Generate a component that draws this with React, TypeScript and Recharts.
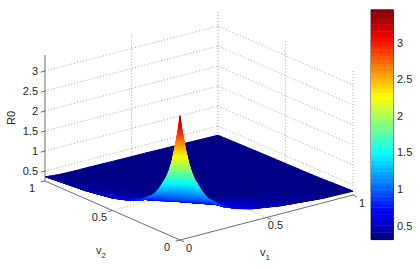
import React from "react";
import { ComposedChart, Line, Scatter, XAxis, YAxis } from "recharts";

// ---- chart values ----
const v1Grid = [0, 0.008, 0.017, 0.025, 0.033, 0.05, 0.067, 0.083, 0.125, 0.167, 0.25, 0.333, 0.417, 0.583, 0.833, 1];
const v2Grid = [0, 0.01, 0.02, 0.03, 0.04, 0.06, 0.08, 0.1, 0.15, 0.2, 0.3, 0.4, 0.5, 0.7, 1];

const r0AtV2_000 = [3.36, 3.05, 2.85, 2.65, 2.46, 2.12, 1.87, 1.68, 1.33, 1.08, 0.8, 0.66, 0.56, 0.45, 0.36, 0.345];
const r0AtV2_001 = [3.05, 2.93, 2.76, 2.58, 2.41, 2.08, 1.85, 1.66, 1.32, 1.075, 0.8, 0.66, 0.56, 0.45, 0.36, 0.345];
const r0AtV2_002 = [2.85, 2.76, 2.62, 2.46, 2.3, 2.03, 1.8, 1.63, 1.3, 1.07, 0.79, 0.66, 0.56, 0.445, 0.36, 0.345];
const r0AtV2_003 = [2.65, 2.58, 2.46, 2.32, 2.19, 1.95, 1.75, 1.59, 1.28, 1.06, 0.79, 0.65, 0.555, 0.44, 0.358, 0.344];
const r0AtV2_004 = [2.46, 2.41, 2.3, 2.19, 2.07, 1.87, 1.7, 1.55, 1.25, 1.05, 0.785, 0.65, 0.55, 0.43, 0.355, 0.343];
const r0AtV2_006 = [2.12, 2.08, 2.03, 1.95, 1.87, 1.72, 1.56, 1.45, 1.2, 1.01, 0.77, 0.64, 0.545, 0.42, 0.35, 0.342];
const r0AtV2_008 = [1.87, 1.85, 1.8, 1.75, 1.7, 1.56, 1.46, 1.36, 1.12, 0.95, 0.755, 0.635, 0.54, 0.41, 0.35, 0.34];
const r0AtV2_010 = [1.68, 1.66, 1.63, 1.59, 1.55, 1.45, 1.36, 1.25, 1.02, 0.88, 0.72, 0.625, 0.53, 0.4, 0.345, 0.335];
const r0AtV2_015 = [1.33, 1.32, 1.3, 1.28, 1.25, 1.2, 1.12, 1.02, 0.88, 0.8, 0.66, 0.58, 0.49, 0.39, 0.34, 0.33];
const r0AtV2_020 = [1.08, 1.075, 1.07, 1.06, 1.05, 1.01, 0.95, 0.88, 0.8, 0.72, 0.6, 0.52, 0.44, 0.37, 0.33, 0.32];
const r0AtV2_030 = [0.8, 0.8, 0.79, 0.79, 0.785, 0.77, 0.74, 0.71, 0.65, 0.61, 0.5, 0.42, 0.37, 0.33, 0.32, 0.31];
const r0AtV2_040 = [0.66, 0.66, 0.66, 0.65, 0.65, 0.63, 0.61, 0.59, 0.55, 0.5, 0.42, 0.37, 0.34, 0.32, 0.31, 0.305];
const r0AtV2_050 = [0.56, 0.55, 0.55, 0.54, 0.53, 0.51, 0.49, 0.46, 0.42, 0.39, 0.36, 0.34, 0.32, 0.31, 0.305, 0.3];
const r0AtV2_070 = [0.45, 0.44, 0.43, 0.42, 0.41, 0.4, 0.39, 0.38, 0.37, 0.36, 0.33, 0.32, 0.31, 0.305, 0.3, 0.29];
const r0AtV2_100 = [0.36, 0.35, 0.345, 0.34, 0.335, 0.33, 0.325, 0.32, 0.315, 0.31, 0.31, 0.305, 0.3, 0.295, 0.28, 0.27];

const r0Rows = [
  r0AtV2_000, r0AtV2_001, r0AtV2_002, r0AtV2_003, r0AtV2_004, r0AtV2_006, r0AtV2_008, r0AtV2_010,
  r0AtV2_015, r0AtV2_020, r0AtV2_030, r0AtV2_040, r0AtV2_050, r0AtV2_070, r0AtV2_100,
];

const zTicks = [0.5, 1, 1.5, 2, 2.5, 3];
const zTickLabels = ["0.5", "1", "1.5", "2", "2.5", "3"];
const horizontalTicks = [0, 0.5, 1];
const horizontalTickLabels = ["0", "0.5", "1"];
const colorbarTicks = [0.5, 1, 1.5, 2, 2.5, 3];
const colorbarTickLabels = ["0.5", "1", "1.5", "2", "2.5", "3"];

// ---- view and style ----
const W = 420;
const H = 269;
const Z_FLOOR = 0.25;
const Z_TOP = 3.4;
const C_MIN = 0.31;
const C_MAX = 3.45;
const LEVELS = 64;
const FONT = "'Liberation Sans', Arial, sans-serif";
const TEXT = "#262626";
const AXIS = "#6e6e6e";
const GRID = "#a8a8a8";

const project = (v1: number, v2: number, z: number) => ({
  sx: 180 + 173 * v1 - 135 * v2,
  sy: 240 - 45 * v1 - 59 * v2 - 40 * (z - Z_FLOOR),
});

const clamp = (t: number) => Math.max(0, Math.min(1, t));
const jet = (z: number) => {
  const level = Math.min(LEVELS - 1, Math.floor(clamp((z - C_MIN) / (C_MAX - C_MIN)) * LEVELS));
  const t = (level + 0.5) / LEVELS;
  const r = clamp(Math.min(4 * t - 1.5, -4 * t + 4.5));
  const g = clamp(Math.min(4 * t - 0.5, -4 * t + 3.5));
  const b = clamp(Math.min(4 * t + 0.5, -4 * t + 2.5));
  return `rgb(${Math.round(r * 255)},${Math.round(g * 255)},${Math.round(b * 255)})`;
};

// surface cells, farthest first so nearer cells paint over them
type Cell = { sx: number; sy: number; a: number; b: number };
const cells: Cell[] = [];
for (let a = v2Grid.length - 2; a >= 0; a--) {
  for (let b = v1Grid.length - 2; b >= 0; b--) {
    cells.push({ ...project(v1Grid[b], v2Grid[a], r0Rows[a][b]), a, b });
  }
}

const SurfaceCell = (props: any) => {
  const { cx, cy, payload } = props;
  if (cx == null || !payload) return null;
  const { a, b, sx, sy } = payload as Cell;
  const v1a = v1Grid[b], v1b = v1Grid[b + 1];
  const v2a = v2Grid[a], v2b = v2Grid[a + 1];
  const z00 = r0Rows[a][b], z01 = r0Rows[a][b + 1], z10 = r0Rows[a + 1][b], z11 = r0Rows[a + 1][b + 1];
  const spread = Math.max(z00, z01, z10, z11) - Math.min(z00, z01, z10, z11);
  const n = Math.max(1, Math.min(10, Math.ceil(spread / 0.03)));
  const at = (u: number, w: number) => {
    const z = (1 - u) * (1 - w) * z00 + u * (1 - w) * z01 + (1 - u) * w * z10 + u * w * z11;
    const p = project(v1a + (v1b - v1a) * u, v2a + (v2b - v2a) * w, z);
    return { x: cx + p.sx - sx, y: cy + p.sy - sy, z };
  };
  const polys = [];
  for (let iw = n - 1; iw >= 0; iw--) {
    for (let iu = n - 1; iu >= 0; iu--) {
      const c = [at(iu / n, iw / n), at((iu + 1) / n, iw / n), at((iu + 1) / n, (iw + 1) / n), at(iu / n, (iw + 1) / n)];
      const fill = jet((c[0].z + c[1].z + c[2].z + c[3].z) / 4);
      polys.push(
        <polygon
          key={`${iw}-${iu}`}
          points={c.map((q) => `${q.x.toFixed(2)},${q.y.toFixed(2)}`).join(" ")}
          fill={fill}
          stroke={fill}
          strokeWidth={1}
          strokeLinejoin="round"
        />,
      );
    }
  }
  return <g>{polys}</g>;
};

// ---- reference lines in 3-D ----
type P = { sx: number; sy: number };
const seg = (a: number[], b: number[]): P[] => [project(a[0], a[1], a[2]), project(b[0], b[1], b[2])];

const gridSegments: P[][] = [
  ...zTicks.flatMap((z) => [seg([0, 1, z], [1, 1, z]), seg([1, 1, z], [1, 0, z])]),
  seg([0.5, 1, Z_FLOOR], [0.5, 1, Z_TOP]),
  seg([1, 1, Z_FLOOR], [1, 1, Z_TOP]),
  seg([1, 0.5, Z_FLOOR], [1, 0.5, Z_TOP]),
  seg([1, 0, Z_FLOOR], [1, 0, Z_TOP]),
  seg([0.5, 0, Z_FLOOR], [0.5, 1, Z_FLOOR]),
  seg([0, 0.5, Z_FLOOR], [1, 0.5, Z_FLOOR]),
];

const axisSegments: P[][] = [
  seg([0, 1, Z_FLOOR], [0, 1, Z_TOP]),
  seg([0, 1, Z_FLOOR], [0, 0, Z_FLOOR]),
  seg([0, 0, Z_FLOOR], [1, 0, Z_FLOOR]),
  ...zTicks.map((z) => seg([0, 1, z], [-0.025, 1, z])),
  ...horizontalTicks.map((v) => seg([0, v, Z_FLOOR], [-0.025, v, Z_FLOOR])),
  ...horizontalTicks.map((v) => seg([v, 0, Z_FLOOR], [v, -0.03, Z_FLOOR])),
];

// ---- colour bar ----
const cbY = (z: number) => 225.7 - (z - 0.5) * 73.2;
const CB_LEFT = 371;
const CB_RIGHT = 393.5;
const cbStep = (C_MAX - C_MIN) / LEVELS;
const cbLevels = Array.from({ length: LEVELS }, (_, i) => {
  const z = C_MIN + cbStep * i;
  return { sx: CB_LEFT, sy: cbY(z + cbStep), h: cbY(z) - cbY(z + cbStep), z: z + cbStep / 2 };
});
const CbBand = (props: any) => {
  const { cx, cy, payload } = props;
  if (cx == null) return null;
  const fill = jet(payload.z);
  return <rect x={cx} y={cy} width={CB_RIGHT - CB_LEFT} height={payload.h + 0.4} fill={fill} />;
};
const cbTop = cbY(C_MAX);
const cbBottom = cbY(C_MIN);
const cbOutline: P[] = [
  { sx: CB_LEFT, sy: cbTop },
  { sx: CB_RIGHT, sy: cbTop },
  { sx: CB_RIGHT, sy: cbBottom },
  { sx: CB_LEFT, sy: cbBottom },
  { sx: CB_LEFT, sy: cbTop },
];
const cbTickSegments: P[][] = colorbarTicks.flatMap((z) => [
  [{ sx: CB_LEFT, sy: cbY(z) }, { sx: CB_LEFT + 2.5, sy: cbY(z) }],
  [{ sx: CB_RIGHT - 2.5, sy: cbY(z) }, { sx: CB_RIGHT, sy: cbY(z) }],
]);

// ---- text ----
type Label = { sx: number; sy: number; text: string; anchor?: string; sub?: string; rotate?: boolean };
const labels: Label[] = [
  ...zTicks.map((z, i) => {
    const p = project(0, 1, z);
    return { sx: p.sx - 7, sy: p.sy, text: zTickLabels[i], anchor: "end" };
  }),
  ...horizontalTicks.map((v, i) => {
    const p = project(0, v, Z_FLOOR);
    return { sx: p.sx - 13, sy: p.sy + 7, text: horizontalTickLabels[i], anchor: "middle" };
  }),
  ...horizontalTicks.map((v, i) => {
    const p = project(v, 0, Z_FLOOR);
    return { sx: p.sx + 9, sy: p.sy + 8, text: horizontalTickLabels[i], anchor: "middle" };
  }),
  ...colorbarTicks.map((z, i) => ({ sx: 397, sy: cbY(z), text: colorbarTickLabels[i], anchor: "start" })),
  { sx: 96, sy: 250, text: "v", sub: "2", anchor: "start" },
  { sx: 260, sy: 252, text: "v", sub: "1", anchor: "start" },
  { sx: 11, sy: 118, text: "R0", anchor: "middle", rotate: true },
];

const TextMark = (props: any) => {
  const { cx, cy, payload } = props;
  if (cx == null) return null;
  const l = payload as Label;
  return (
    <text
      x={cx}
      y={cy}
      dy="0.35em"
      textAnchor={l.anchor}
      fontFamily={FONT}
      fontSize={11}
      fill={TEXT}
      transform={l.rotate ? `rotate(-90 ${cx} ${cy})` : undefined}
    >
      {l.text}
      {l.sub ? (
        <tspan dy={4} fontSize={8}>
          {l.sub}
        </tspan>
      ) : null}
    </text>
  );
};

export default function App() {
  return (
    <div style={{ position: "fixed", left: 0, top: 0, width: W, height: H, background: "#fff" }}>
      <ComposedChart width={W} height={H} margin={{ top: 0, right: 0, bottom: 0, left: 0 }}>
        <XAxis type="number" dataKey="sx" domain={[0, W]} hide allowDataOverflow />
        <YAxis type="number" dataKey="sy" domain={[0, H]} reversed hide allowDataOverflow />
        {gridSegments.map((d, i) => (
          <Line
            key={`grid-${i}`}
            data={d}
            dataKey="sy"
            stroke={GRID}
            strokeWidth={1}
            strokeDasharray="1 2"
            dot={false}
            activeDot={false}
            legendType="none"
            isAnimationActive={false}
          />
        ))}
        {axisSegments.map((d, i) => (
          <Line
            key={`axis-${i}`}
            data={d}
            dataKey="sy"
            stroke={AXIS}
            strokeWidth={1}
            dot={false}
            activeDot={false}
            legendType="none"
            isAnimationActive={false}
          />
        ))}
        <Scatter data={cells} dataKey="sy" shape={SurfaceCell} isAnimationActive={false} />
        <Scatter data={cbLevels} dataKey="sy" shape={CbBand} isAnimationActive={false} />
        <Line
          data={cbOutline}
          dataKey="sy"
          stroke="#3c3c3c"
          strokeWidth={1}
          dot={false}
          activeDot={false}
          legendType="none"
          isAnimationActive={false}
        />
        {cbTickSegments.map((d, i) => (
          <Line
            key={`cbtick-${i}`}
            data={d}
            dataKey="sy"
            stroke="#3c3c3c"
            strokeWidth={1}
            dot={false}
            activeDot={false}
            legendType="none"
            isAnimationActive={false}
          />
        ))}
        <Scatter data={labels} dataKey="sy" shape={TextMark} isAnimationActive={false} />
      </ComposedChart>
    </div>
  );
}
